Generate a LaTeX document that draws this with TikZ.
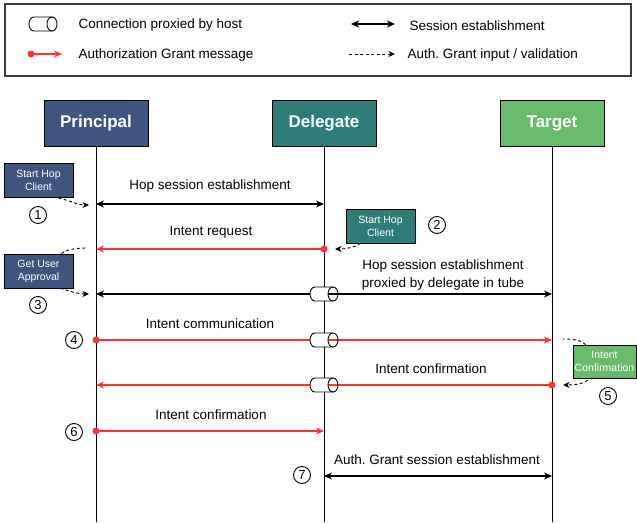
\documentclass[tikz,border=0pt]{standalone}
\usepackage{fontspec}
\setmainfont{Liberation Sans}
\usetikzlibrary{arrows.meta}
\frenchspacing

\definecolor{principalfill}{RGB}{63,85,128}
\definecolor{delegatefill}{RGB}{46,125,121}
\definecolor{targetfill}{RGB}{103,187,107}
\definecolor{msgred}{RGB}{255,51,51}
\definecolor{framegray}{RGB}{60,60,60}

\tikzset{
  actor/.style={draw=black, line width=0.9pt, minimum width=104pt, minimum height=46pt,
    text=white, font=\fontsize{17}{20}\selectfont\bfseries},
  notebox/.style={draw=black, line width=0.8pt, text=white, align=center,
    minimum height=34pt, inner sep=0pt, font=\fontsize{10.5}{13}\selectfont},
  lifeline/.style={line width=0.9pt},
  tip/.tip={Stealth[length=8pt,width=7pt,inset=2.5pt]},
  smalltip/.tip={Stealth[length=6.5pt,width=6pt,inset=2pt]},
  sess/.style={line width=1.1pt, tip-tip},
  grant/.style={draw=msgred, line width=1.1pt, -tip, tip/.tip={Stealth[length=8pt,width=7pt,inset=2.5pt,color=msgred]}},
  hint/.style={line width=0.9pt, dash pattern=on 3pt off 2.5pt},
  msgtext/.style={font=\fontsize{13.5}{18}\selectfont, align=center, yshift=-1.5pt},
  legtext/.style={font=\fontsize{13.5}{16}\selectfont, anchor=west, yshift=-1.5pt},
  numcirc/.style={circle, draw, line width=0.9pt, minimum size=17pt, inner sep=0pt,
    font=\fontsize{13}{13}\selectfont},
  reddot/.style={circle, fill=msgred, minimum size=7pt, inner sep=0pt},
  tube/.pic={
    % body with the end face left open (even odd), so lines show through it
    \path[fill=white, even odd rule]
      (-9,-7) -- (9,-7) .. controls (11.76,-7) and (14,-3.87) .. (14,0)
      .. controls (14,3.87) and (11.76,7) .. (9,7) -- (-9,7)
      .. controls (-11.76,7) and (-14,3.87) .. (-14,0)
      .. controls (-14,-3.87) and (-11.76,-7) .. (-9,-7) -- cycle
      (9,-7) .. controls (6.24,-7) and (4,-3.87) .. (4,0)
      .. controls (4,3.87) and (6.24,7) .. (9,7)
      .. controls (11.76,7) and (14,3.87) .. (14,0)
      .. controls (14,-3.87) and (11.76,-7) .. (9,-7);
    \draw[line width=0.9pt]
      (-9,-7) -- (9,-7) .. controls (11.76,-7) and (14,-3.87) .. (14,0)
      .. controls (14,3.87) and (11.76,7) .. (9,7) -- (-9,7)
      .. controls (-11.76,7) and (-14,3.87) .. (-14,0)
      .. controls (-14,-3.87) and (-11.76,-7) .. (-9,-7) -- cycle;
    \draw[line width=0.9pt]
      (9,-7) .. controls (6.24,-7) and (4,-3.87) .. (4,0)
      .. controls (4,3.87) and (6.24,7) .. (9,7);
  }
}

\begin{document}
\begin{tikzpicture}[x=1pt, y=-1pt]
\useasboundingbox (0,0) rectangle (637,522);

% ---------- legend ----------
\node[draw=framegray, line width=1.1pt, minimum width=626pt, minimum height=72pt] (legend) at (318,40) {};
\pic at (43,24) {tube};
\node[legtext] (lg1) at (75,24) {Connection proxied by host};
\coordinate (lr1) at (31,54);
\coordinate (lr2) at (62,54);
\node[reddot] (lrdot) at (lr1) {};
\draw[grant] (lr1) -- (lr2);
\node[legtext] (lg2) at (75,54) {Authorization Grant message};
\coordinate (ls1) at (351,24);
\coordinate (ls2) at (395,24);
\draw[sess] (ls1) -- (ls2);
\node[legtext] (lg3) at (406,24) {Session establishment};
\coordinate (lh1) at (349,54);
\coordinate (lh2) at (395,54);
\draw[hint, -smalltip] (lh1) -- (lh2);
\node[legtext] (lg4) at (404,54) {Auth. Grant input / validation};

% ---------- participants ----------
\node[actor, fill=principalfill] (principal) at (96,123) {Principal};
\node[actor, fill=delegatefill] (delegate) at (324,123) {Delegate};
\node[actor, fill=targetfill] (target) at (552,123) {Target};

\coordinate (Pend) at (96,522);
\coordinate (Dend) at (324,522);
\coordinate (Tend) at (552,522);
\draw[lifeline] (principal.south) -- (Pend);
\draw[lifeline] (delegate.south) -- (Dend);
\draw[lifeline] (target.south) -- (Tend);

% points on the lifelines
\coordinate (P1) at (96,204);  \coordinate (D1) at (324,204);
\coordinate (P2) at (96,249);  \coordinate (D2) at (324,249);
\coordinate (P3) at (96,294);  \coordinate (D3) at (324,294);  \coordinate (T3) at (552,294);
\coordinate (P4) at (96,340);  \coordinate (D4) at (324,340);  \coordinate (T4) at (552,340);
\coordinate (P5) at (96,385);  \coordinate (D5) at (324,385);  \coordinate (T5) at (552,385);
\coordinate (P6) at (96,431);  \coordinate (D6) at (324,431);
\coordinate (D7) at (324,476); \coordinate (T7) at (552,476);

% ---------- messages ----------
\draw[sess] (P1) -- (D1);
\node[msgtext] (m1) at (210,185) {Hop session establishment};

\draw[grant] (D2) -- (P2);
\node[msgtext] (m2) at (211,231) {Intent request};

\draw[sess] (P3) -- (T3);
\node[msgtext] (m3) at (443,274) {Hop session establishment\\proxied by delegate in tube};

\draw[grant] (P4) -- (T4);
\node[msgtext] (m4) at (210,322) {Intent communication};

\draw[grant] (T5) -- (P5);
\node[msgtext] (m5) at (431,367) {Intent confirmation};

\draw[grant] (P6) -- (D6);
\node[msgtext] (m6) at (211,413) {Intent confirmation};

\draw[sess] (D7) -- (T7);
\node[msgtext] (m7) at (437,458) {Auth. Grant session establishment};

% tubes through the delegate
\pic at (D3) {tube};
\pic at (D4) {tube};
\pic at (D5) {tube};

% message origins
\node[reddot] at (D2) {};
\node[reddot] at (P4) {};
\node[reddot] at (T5) {};
\node[reddot] at (P6) {};

% ---------- side notes ----------
\node[notebox, fill=principalfill, minimum width=69pt] (n1) at (38.5,180.5) {Start Hop\\Client};
\node[notebox, fill=principalfill, minimum width=69pt] (n3) at (38.5,271) {Get User\\Approval};
\node[notebox, fill=delegatefill, minimum width=69pt] (n2) at (380.5,226) {Start Hop\\Client};
\node[notebox, fill=targetfill, minimum width=63pt, minimum height=33pt] (n5) at (604.5,361.5) {Intent\\Confirmation};

\coordinate (h1) at (89,205);
\coordinate (h3a) at (87,248);
\coordinate (h3b) at (89,294);
\coordinate (h2) at (335,249);
\coordinate (h5a) at (563,339);
\coordinate (h5b) at (563,385);

\draw[hint, -smalltip] ([xshift=-15pt]n1.south east) .. controls ++(12,3) and ++(-11,0) .. (h1);
\draw[hint] ([xshift=-12pt]n3.north east) .. controls ++(5,-4) and ++(-12,0) .. (h3a);
\draw[hint, -smalltip] ([xshift=-13pt]n3.south east) .. controls ++(10,3) and ++(-11,0) .. (h3b);
\draw[hint, -smalltip] ([xshift=15pt]n2.south west) .. controls ++(-6,4) and ++(11,0) .. (h2);
\draw[hint] ([xshift=13pt]n5.north west) .. controls ++(-4,-4) and ++(12,0) .. (h5a);
\draw[hint, -smalltip] ([xshift=15pt,yshift=-2pt]n5.south west) .. controls ++(-6,4) and ++(11,0) .. (h5b);

% ---------- step numbers ----------
\node[numcirc] (c1) at (38,215) {1};
\node[numcirc] (c2) at (437,225) {2};
\node[numcirc] (c3) at (38,305) {3};
\node[numcirc] (c4) at (74,340) {4};
\node[numcirc] (c5) at (608,396) {5};
\node[numcirc] (c6) at (74,432) {6};
\node[numcirc] (c7) at (302,475) {7};
\end{tikzpicture}
\end{document}
